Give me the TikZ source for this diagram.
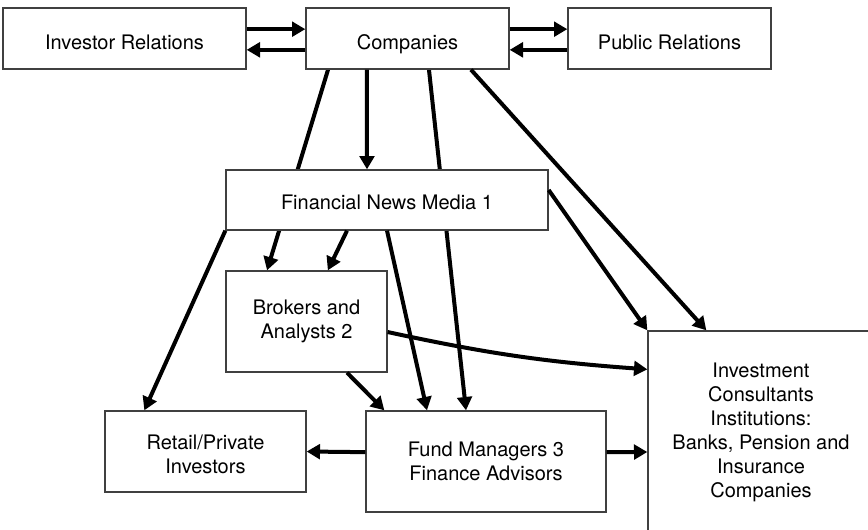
\documentclass[tikz,border=0pt]{standalone}
\usepackage{fontspec}
\setmainfont{TeX Gyre Heros}
\usetikzlibrary{arrows.meta,backgrounds}
\tikzstyle{block}=[rectangle, draw=black!75, fill=white, line width=1pt, align=center, inner sep=3pt, font=\fontsize{15}{18}\selectfont]
\tikzstyle{link}=[draw, line width=3pt, -{Triangle[length=10pt,width=11pt]}]
\newcommand{\block}{\node[block]}

\begin{document}
\begin{tikzpicture}[x=0.75pt, y=-0.75pt
    ,every edge/.style={link}
]
\useasboundingbox (0,0) rectangle (868,529);
\block[minimum width=182.25pt, minimum height=45.75pt, text height=17pt, text depth=0pt] (ir) at (124.5,38.5) {Investor Relations};
\block[minimum width=152.25pt, minimum height=45.75pt, text height=17pt, text depth=0pt] (comp) at (407.5,38.5) {Companies};
\block[minimum width=152.25pt, minimum height=45.75pt, text height=17pt, text depth=0pt] (pr) at (669.5,38.5) {Public Relations};
\block[minimum width=241.5pt, minimum height=45pt, text height=14pt, text depth=0pt] (fnm) at (387,200) {Financial News Media 1};
\block[minimum width=120.75pt, minimum height=75.75pt] (brk) at (306.5,321.5) {Brokers and\\Analysts 2};
\block[minimum width=150.75pt, minimum height=60.75pt] (ret) at (205.5,451.5)
  {\raisebox{-3.75pt}[\height][\depth]{\begin{tabular}{@{}c@{}}Retail/Private\\Investors\end{tabular}}};
\block[minimum width=180pt, minimum height=75.75pt] (fund) at (486,461.5) {Fund Managers 3\\Finance Advisors};
\block[minimum width=169.5pt, minimum height=151.5pt] (ic) at (761,432) {Investment\\Consultants\\Institutions:\\Banks, Pension and\\Insurance\\Companies};
\path
([yshift=7pt]ir.east) edge ([yshift=7pt]comp.west)
([yshift=-8.5pt]comp.west) edge ([yshift=-8.5pt]ir.east)
([yshift=7pt]comp.east) edge ([yshift=7pt]pr.west)
([yshift=-8.5pt]pr.west) edge ([yshift=-8.5pt]comp.east)
([xshift=-30.4pt]comp.south) edge ([xshift=-15pt]fnm.north)
([xshift=47.6pt]comp.south) edge ([xshift=44.25pt]ic.north west)
(fnm.south west) edge ([xshift=30pt]ret.north west)
([xshift=-30pt]fnm.south) edge ([xshift=16pt]brk.north)
(fnm.south) edge ([xshift=-44.25pt]fund.north)
([yshift=7.5pt]fnm.east) edge (ic.north west)
([yshift=-7.9pt]brk.east) edge[bend right=4] ([yshift=-29.25pt]ic.north west)
([xshift=30.4pt]brk.south) edge ([xshift=14.25pt]fund.north west)
([yshift=7pt]fund.west) edge (ret.east)
([yshift=7pt]fund.east) edge ([yshift=-15pt]ic.west)
;
% lines that pass behind the news box
\begin{scope}[on background layer]
\path
([xshift=-59.6pt]comp.south) edge ([xshift=-29.6pt]brk.north)
([xshift=16.1pt]comp.south) edge ([xshift=-15pt]fund.north)
;
\end{scope}
\end{tikzpicture}
\end{document}
